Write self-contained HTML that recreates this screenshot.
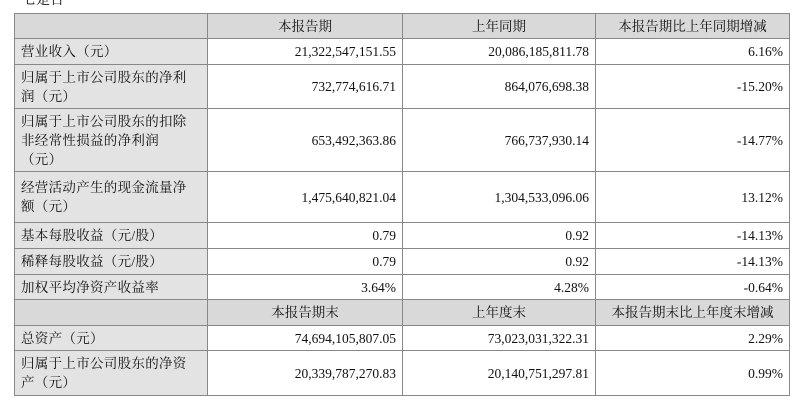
<!DOCTYPE html>
<html><head><meta charset="utf-8"><style>
body{margin:0;width:799px;height:408px;background:#fff;overflow:hidden;position:relative;font-family:"Liberation Serif","Noto Serif CJK SC",serif;font-size:13.5px;color:#111}
.top{position:absolute;left:22px;top:-11px;font-size:14px}
table{position:absolute;left:14px;top:13px;border-collapse:collapse;table-layout:fixed;width:775px}
td{border:1px solid #888;padding:0 6px;line-height:19px;vertical-align:middle}
td.l{background:#e3e3e3;text-align:left;padding-left:6px;padding-right:20px;letter-spacing:0.3px}
td.n{text-align:right}
tr.h td{background:#d9d9d9;text-align:center}
</style></head><body>
<div class="top">七是否</div>
<table>
<colgroup><col style="width:193px"><col style="width:195px"><col style="width:193px"><col style="width:194px"></colgroup>
<tr class="h" style="height:25px"><td></td><td>本报告期</td><td>上年同期</td><td>本报告期比上年同期增减</td></tr>
<tr style="height:26px"><td class="l">营业收入（元）</td><td class="n">21,322,547,151.55</td><td class="n">20,086,185,811.78</td><td class="n">6.16%</td></tr>
<tr style="height:44px"><td class="l">归属于上市公司股东的净利润（元）</td><td class="n">732,774,616.71</td><td class="n">864,076,698.38</td><td class="n">-15.20%</td></tr>
<tr style="height:63px"><td class="l">归属于上市公司股东的扣除非经常性损益的净利润（元）</td><td class="n">653,492,363.86</td><td class="n">766,737,930.14</td><td class="n">-14.77%</td></tr>
<tr style="height:51px"><td class="l">经营活动产生的现金流量净额（元）</td><td class="n">1,475,640,821.04</td><td class="n">1,304,533,096.06</td><td class="n">13.12%</td></tr>
<tr style="height:26px"><td class="l">基本每股收益（元/股）</td><td class="n">0.79</td><td class="n">0.92</td><td class="n">-14.13%</td></tr>
<tr style="height:26px"><td class="l">稀释每股收益（元/股）</td><td class="n">0.79</td><td class="n">0.92</td><td class="n">-14.13%</td></tr>
<tr style="height:25px"><td class="l">加权平均净资产收益率</td><td class="n">3.64%</td><td class="n">4.28%</td><td class="n">-0.64%</td></tr>
<tr class="h" style="height:26px"><td></td><td>本报告期末</td><td>上年度末</td><td>本报告期末比上年度末增减</td></tr>
<tr style="height:25px"><td class="l">总资产（元）</td><td class="n">74,694,105,807.05</td><td class="n">73,023,031,322.31</td><td class="n">2.29%</td></tr>
<tr style="height:45px"><td class="l">归属于上市公司股东的净资产（元）</td><td class="n">20,339,787,270.83</td><td class="n">20,140,751,297.81</td><td class="n">0.99%</td></tr>
</table>
</body></html>
